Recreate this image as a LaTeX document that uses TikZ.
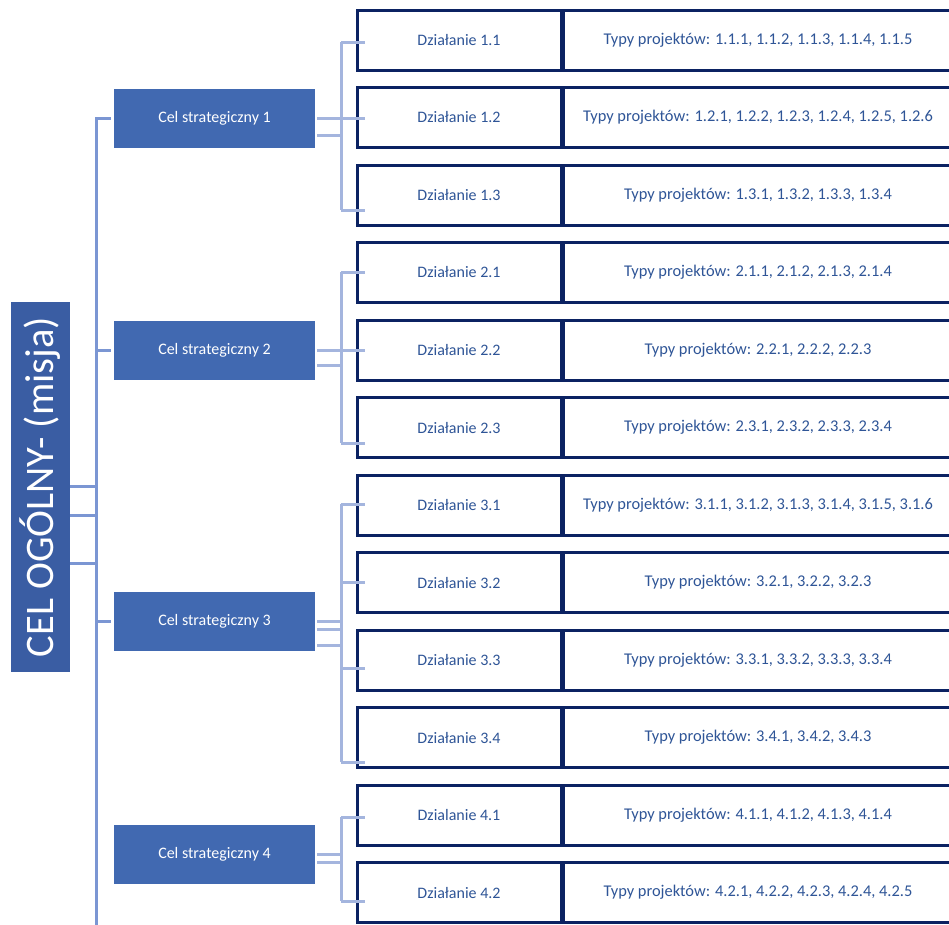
\documentclass[tikz,border=0pt]{standalone}
\usepackage{fontspec}
\setmainfont{Carlito}
\usetikzlibrary{calc}
\definecolor{mainfill}{HTML}{3A5DA3}
\definecolor{celfill}{HTML}{4169B1}
\definecolor{navy}{HTML}{0B2262}
\definecolor{txtblue}{HTML}{2F5597}
\definecolor{lcol}{HTML}{7B96D3}
\definecolor{rcol}{HTML}{A4B5DE}
\tikzset{
  mainbox/.style={fill=mainfill, text=white, rotate=90, minimum width=370pt, minimum height=59pt, inner sep=0pt, font=\fontsize{40.5}{46}\selectfont},
  celbox/.style={fill=celfill, text=white, minimum width=201pt, minimum height=59pt, inner sep=0pt, font=\fontsize{16}{19}\selectfont},
  actbox/.style={draw=navy, line width=3pt, text=txtblue, minimum width=204pt, minimum height=60pt, inner sep=0pt, font=\fontsize{16}{19}\selectfont},
  typbox/.style={draw=navy, line width=3pt, text=txtblue, minimum width=390pt, minimum height=60pt, inner sep=0pt, font=\fontsize{16.4}{19}\selectfont},
  lline/.style={draw=lcol, line width=3pt},
  rline/.style={draw=rcol, line width=3pt}
}
\begin{document}
\begin{tikzpicture}[x=1pt,y=-1pt]
\useasboundingbox (0,0) rectangle (949,924);
\fill[white] (0,0) rectangle (949,924);

% main goal
\node[mainbox] (main) at (40.5,487) {CEL OGÓLNY- (misja)};

% strategic goals
\node[celbox] (c1) at (214.5,118.5) {Cel strategiczny 1};
\node[celbox] (c2) at (214.5,350.5) {Cel strategiczny 2};
\node[celbox] (c3) at (214.5,621.5) {Cel strategiczny 3};
\node[celbox] (c4) at (214.5,854.5) {Cel strategiczny 4};

% actions
\node[actbox] (a11) at (459,40)    {Działanie 1.1};
\node[actbox] (a12) at (459,117.5) {Działanie 1.2};
\node[actbox] (a13) at (459,195)   {Działanie 1.3};
\node[actbox] (a21) at (459,272.5) {Działanie 2.1};
\node[actbox] (a22) at (459,350)   {Działanie 2.2};
\node[actbox] (a23) at (459,427.5) {Działanie 2.3};
\node[actbox] (a31) at (459,505)   {Działanie 3.1};
\node[actbox] (a32) at (459,582.5) {Działanie 3.2};
\node[actbox] (a33) at (459,660)   {Działanie 3.3};
\node[actbox] (a34) at (459,737.5) {Działanie 3.4};
\node[actbox] (a41) at (459,815)   {Dzialanie 4.1};
\node[actbox] (a42) at (459,892.5) {Działanie 4.2};

% project types
\node[typbox] (p11) at (758,40)    {Typy projektów: 1.1.1, 1.1.2, 1.1.3, 1.1.4, 1.1.5};
\node[typbox] (p12) at (758,117.5) {Typy projektów: 1.2.1, 1.2.2, 1.2.3, 1.2.4, 1.2.5, 1.2.6};
\node[typbox] (p13) at (758,195)   {Typy projektów: 1.3.1, 1.3.2, 1.3.3, 1.3.4};
\node[typbox] (p21) at (758,272.5) {Typy projektów: 2.1.1, 2.1.2, 2.1.3, 2.1.4};
\node[typbox] (p22) at (758,350)   {Typy projektów: 2.2.1, 2.2.2, 2.2.3};
\node[typbox] (p23) at (758,427.5) {Typy projektów: 2.3.1, 2.3.2, 2.3.3, 2.3.4};
\node[typbox] (p31) at (758,505)   {Typy projektów: 3.1.1, 3.1.2, 3.1.3, 3.1.4, 3.1.5, 3.1.6};
\node[typbox] (p32) at (758,582.5) {Typy projektów: 3.2.1, 3.2.2, 3.2.3};
\node[typbox] (p33) at (758,660)   {Typy projektów: 3.3.1, 3.3.2, 3.3.3, 3.3.4};
\node[typbox] (p34) at (758,737.5) {Typy projektów: 3.4.1, 3.4.2, 3.4.3};
\node[typbox] (p41) at (758,815)   {Typy projektów: 4.1.1, 4.1.2, 4.1.3, 4.1.4};
\node[typbox] (p42) at (758,892.5) {Typy projektów: 4.2.1, 4.2.2, 4.2.3, 4.2.4, 4.2.5};

% left spine
\coordinate (sB) at (96,930);
\coordinate (m1) at (96,486);
\coordinate (m2) at (96,515);
\coordinate (m3) at (96,563);
\draw[lline] ($(c1.west)+(-3,0)$) -- (c1.west -| sB) -- (sB);
\draw[lline] (c2.west -| sB) -- ($(c2.west)+(-3,0)$);
\draw[lline] (c3.west -| sB) -- ($(c3.west)+(-3,0)$);
\draw[lline] (main.south |- m1) -- (m1);
\draw[lline] (main.south |- m2) -- (m2);
\draw[lline] (main.south |- m3) -- (m3);

% group 1
\coordinate (v1t) at (341,42);
\coordinate (v1m) at (341,118);
\coordinate (v1b) at (341,210);
\draw[rline] (v1t) -- (v1b);
\draw[rline] ($(c1.east)+(2,0)$) -- (c1.east -| v1t);
\draw[rline] ($(c1.east)+(2,17)$) -- ($(c1.east -| v1t)+(0,17)$);
\draw[rline] (v1t) -- (a11.west |- v1t) -- ++(9,0);
\draw[rline] (v1m) -- (a12.west |- v1m) -- ++(9,0);
\draw[rline] (v1b) -- (a13.west |- v1b) -- ++(9,0);

% group 2
\coordinate (v2t) at (341,272);
\coordinate (v2m) at (341,350);
\coordinate (v2b) at (341,443);
\draw[rline] (v2t) -- (v2b);
\draw[rline] ($(c2.east)+(2,0)$) -- (c2.east -| v2t);
\draw[rline] ($(c2.east)+(2,15)$) -- ($(c2.east -| v2t)+(0,15)$);
\draw[rline] (v2t) -- (a21.west |- v2t) -- ++(9,0);
\draw[rline] (v2m) -- (a22.west |- v2m) -- ++(9,0);
\draw[rline] (v2b) -- (a23.west |- v2b) -- ++(9,0);

% group 3
\coordinate (v3a) at (341,504);
\coordinate (v3b) at (341,582);
\coordinate (v3c) at (341,668);
\coordinate (v3d) at (341,762);
\draw[rline] (v3a) -- (v3d);
\draw[rline] ($(c3.east)+(2,0)$) -- (c3.east -| v3a);
\draw[rline] ($(c3.east)+(2,8)$) -- ($(c3.east -| v3a)+(0,8)$);
\draw[rline] ($(c3.east)+(2,24)$) -- ($(c3.east -| v3a)+(0,24)$);
\draw[rline] (v3a) -- (a31.west |- v3a) -- ++(9,0);
\draw[rline] (v3b) -- (a32.west |- v3b) -- ++(9,0);
\draw[rline] (v3c) -- (a33.west |- v3c) -- ++(9,0);
\draw[rline] (v3d) -- (a34.west |- v3d) -- ++(9,0);

% group 4
\coordinate (v4t) at (341,817);
\coordinate (v4b) at (341,901);
\draw[rline] (v4t) -- (v4b);
\draw[rline] ($(c4.east)+(2,0)$) -- (c4.east -| v4t);
\draw[rline] ($(c4.east)+(2,8)$) -- ($(c4.east -| v4t)+(0,8)$);
\draw[rline] (v4t) -- (a41.west |- v4t) -- ++(9,0);
\draw[rline] (v4b) -- (a42.west |- v4b) -- ++(9,0);
\end{tikzpicture}
\end{document}
